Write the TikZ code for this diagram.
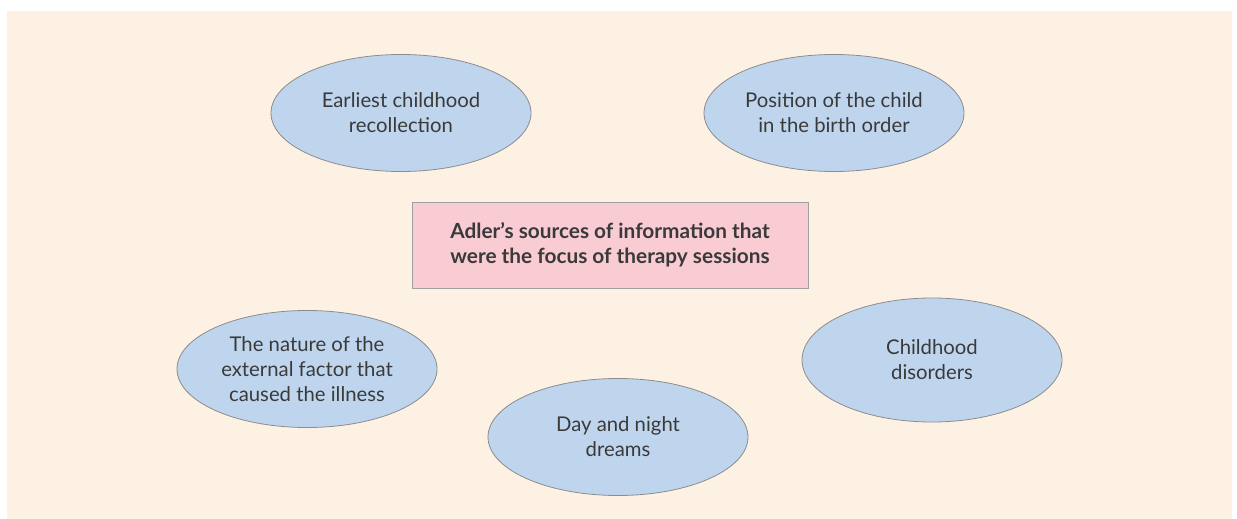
\documentclass[tikz,border=0pt]{standalone}
\usepackage{fontspec}
\setmainfont{Lato}
\usetikzlibrary{shapes.geometric}
\definecolor{pagebg}{HTML}{FDF1E4}
\definecolor{bubble}{HTML}{BFD5EE}
\definecolor{bubbleline}{HTML}{8C8C8C}
\definecolor{centrefill}{HTML}{F9CCD3}
\definecolor{centreline}{HTML}{A0A0A0}
\definecolor{ink}{HTML}{3A3A3A}
\tikzset{
  source/.style={ellipse, draw=bubbleline, line width=0.8pt, fill=bubble,
    minimum width=260pt, minimum height=117pt, inner sep=0pt,
    align=center, text=ink, font=\fontsize{20.3}{25}\selectfont},
  centrebox/.style={rectangle, draw=centreline, line width=0.8pt, fill=centrefill,
    minimum width=396pt, minimum height=86pt, inner sep=0pt,
    align=center, text=ink, font=\fontsize{20.8}{25}\selectfont\bfseries}
}
\begin{document}
\begin{tikzpicture}[x=1pt,y=-1pt]
  \useasboundingbox (0,0) rectangle (1237,519);
  \fill[pagebg] (7,11) rectangle (1232,519);

  \node[centrebox] (centre) at (610,245)
    {Adler’s sources of information that\\were the focus of therapy sessions};

  \node[source] (earliest) at (401,113) {Earliest childhood\\recollection};
  \node[source] (position) at (834,113) {Position of the child\\in the birth order};
  \node[source] (nature) at (307,369) {The nature of the\\external factor that\\caused the illness};
  \node[source] (dreams) at (618,437) {Day and night\\dreams};
  \node[source, minimum height=124pt] (disorders) at (932,360) {Childhood\\disorders};
\end{tikzpicture}
\end{document}
